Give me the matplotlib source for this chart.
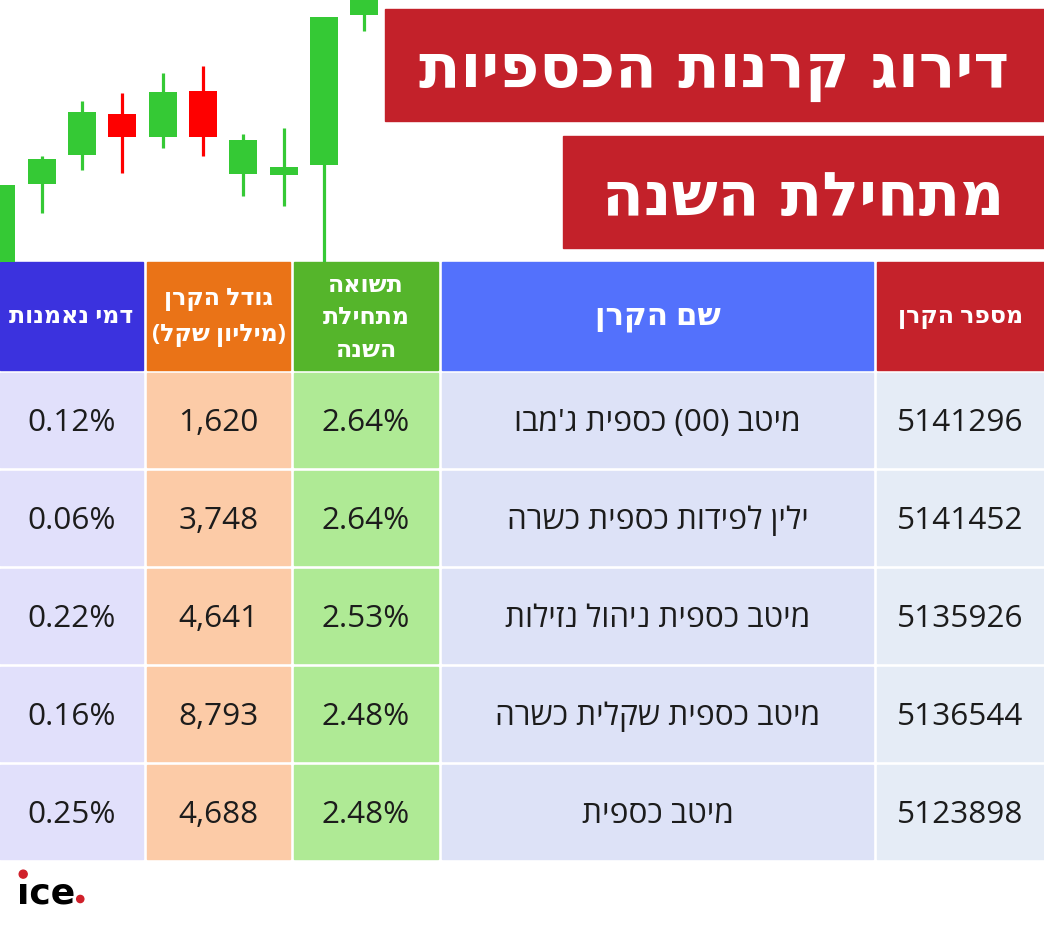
import re
import matplotlib
matplotlib.use("Agg")
import matplotlib.pyplot as plt
from matplotlib.patches import Rectangle, Circle

W, H = 1044, 926

# candle values (arbitrary price units)
candle_open = [0, 78, 107, 148, 125, 171, 88, 87, 97, 247]
candle_close = [77, 103, 150, 125, 170, 125, 122, 95, 245, 280]
candle_high = [77, 106, 161, 169, 189, 196, 128, 134, 245, 280]
candle_low = [0, 49, 92, 89, 114, 106, 66, 56, 0, 231]

title_lines = ["דירוג קרנות הכספיות", "מתחילת השנה"]

# columns, right to left as in the picture
headers = ["מספר הקרן", "שם הקרן", "תשואה\nמתחילת\nהשנה", "גודל הקרן\n(מיליון שקל)", "דמי נאמנות"]
fund_ids = ["5141296", "5141452", "5135926", "5136544", "5123898"]
fund_names = ["מיטב (00) כספית ג'מבו", "ילין לפידות כספית כשרה", "מיטב כספית ניהול נזילות",
              "מיטב כספית שקלית כשרה", "מיטב כספית"]
ytd_return = [2.64, 2.64, 2.53, 2.48, 2.48]
fund_size = [1620, 3748, 4641, 8793, 4688]
mgmt_fee = [0.12, 0.06, 0.22, 0.16, 0.25]

GREEN, RED = "#35c935", "#fe0000"
TITLE_RED = "#c3212a"
head_colors = ["#c5222b", "#5371fc", "#55b52b", "#ea7317", "#3b32de"]
cell_colors = ["#e5ecf6", "#dde2f7", "#afea95", "#fccba7", "#e1e0fb"]
col_x = [(877, 1044), (442, 873), (294, 438), (147, 290), (0, 143)]

HEB = ["Open Sans", "DejaVu Sans"]


def rtl(s):
    # matplotlib has no bidi: flip the line to visual order, keep numbers readable
    r = s[::-1].translate(str.maketrans("()", ")("))
    return re.sub(r"[0-9][0-9.,%]*", lambda m: m.group(0)[::-1], r)


def fit_width(t, width_px, renderer):
    bb = t.get_window_extent(renderer)
    t.set_fontsize(t.get_fontsize() * width_px / bb.width)
    return t.get_fontsize()


fig = plt.figure(figsize=(W / 100, H / 100), dpi=100)
fig.patch.set_facecolor("white")
ax = fig.add_axes([0, 0, 1, 1])
ax.set_xlim(0, W)
ax.set_ylim(H, 0)
ax.axis("off")
renderer = fig.canvas.get_renderer()

# candlestick decoration
cax = fig.add_axes([0, 1 - 262 / H, 385 / W, 262 / H])
cax.set_xlim(-0.037, 9.516)
cax.set_ylim(0, 262)
cax.axis("off")
for i in range(len(candle_open)):
    c = GREEN if candle_close[i] >= candle_open[i] else RED
    cax.vlines(i, candle_low[i], candle_high[i], color=c, lw=2.3, zorder=1)
    lo = min(candle_open[i], candle_close[i])
    cax.bar(i, abs(candle_close[i] - candle_open[i]), bottom=lo, width=0.695, color=c, zorder=2)

# title boxes
ax.add_patch(Rectangle((385, 9), W - 385, 112, color=TITLE_RED))
ax.add_patch(Rectangle((563, 136), W - 563, 112, color=TITLE_RED))
t1 = ax.text((385 + W) / 2, 73, rtl(title_lines[0]), color="white", fontsize=50,
             fontweight="bold", family="DejaVu Sans", ha="center", va="center")
size = fit_width(t1, 590, renderer)
ax.text((563 + W) / 2, 198, rtl(title_lines[1]), color="white", fontsize=size,
        fontweight="bold", family="DejaVu Sans", ha="center", va="center")

# header row
line_y = {1: [317], 2: [299, 335], 3: [286, 318, 351]}
probe = ax.text(0, 0, rtl(headers[0]), fontsize=16, fontweight="bold", family=HEB)
head_size = fit_width(probe, 126, renderer)
probe.remove()
for j, (x0, x1) in enumerate(col_x):
    ax.add_patch(Rectangle((x0, 262), x1 - x0, 108, color=head_colors[j]))
    parts = headers[j].split("\n")
    fs = head_size * 1.3 if j == 1 else head_size
    for k, part in enumerate(parts):
        ax.text((x0 + x1) / 2, line_y[len(parts)][k], rtl(part), color="white", fontsize=fs,
                fontweight="bold", family=HEB, ha="center", va="center")

# data rows
rows = []
for i in range(len(fund_ids)):
    rows.append([fund_ids[i], rtl(fund_names[i]), f"{ytd_return[i]:.2f}%",
                 f"{fund_size[i]:,}", f"{mgmt_fee[i]:.2f}%"])

probe = ax.text(0, 0, fund_ids[0], fontsize=22, family=HEB)
data_size = fit_width(probe, 126, renderer)
probe.remove()

for i, row in enumerate(rows):
    top = 373 + i * 98
    for j, (x0, x1) in enumerate(col_x):
        ax.add_patch(Rectangle((x0, top), x1 - x0, 94, color=cell_colors[j]))
        ax.text((x0 + x1) / 2, top + 50, row[j], color="#1c1c1c", fontsize=data_size,
                family=HEB, ha="center", va="center")

# ice logo
logo_pt = 26
probe = ax.text(0, 0, "ı", fontsize=logo_pt, fontweight="heavy", family="DejaVu Sans")
stem_w = probe.get_window_extent(renderer).width
probe.remove()
logo = ax.text(17, 903, "ıce", color="black", fontsize=logo_pt, fontweight="heavy",
               family="DejaVu Sans", ha="left", va="baseline")
bb = logo.get_window_extent(renderer)
xh = 0.55 * logo_pt * 100 / 72
ax.add_patch(Circle((17 + stem_w / 2, 903 - xh - 9), 4, color="#d0202a"))
ax.add_patch(Circle((17 + bb.width + 5, 899), 3.6, color="#d0202a"))

fig.savefig("out.png", dpi=100, facecolor="white")
